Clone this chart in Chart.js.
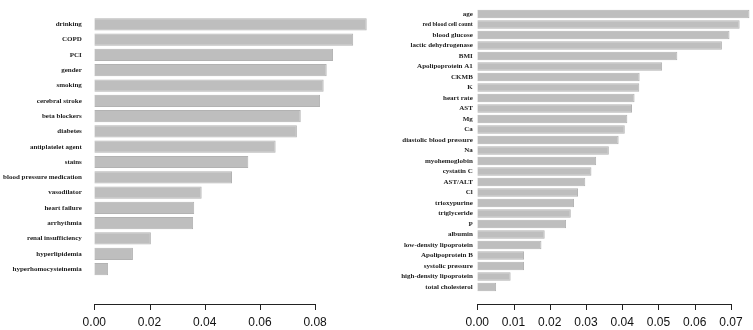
<!DOCTYPE html>
<html><head><meta charset="utf-8">
<script src="https://cdn.jsdelivr.net/npm/chart.js@4.4.1/dist/chart.umd.min.js"></script>
<style>
html,body{margin:0;padding:0;background:#fff;}
#wrap{position:relative;width:753px;height:330px;overflow:hidden;}
#c1box{position:absolute;left:0;top:0;width:376px;height:330px;}
#c2box{position:absolute;left:376px;top:0;width:377px;height:330px;}
</style></head><body>
<div id="wrap"><div id="c1box"><canvas id="c1"></canvas></div><div id="c2box"><canvas id="c2"></canvas></div></div>
<script>
const leftCategories = ["drinking","COPD","PCI","gender","smoking","cerebral stroke","beta blockers","diabetes","antiplatelet agent","stains","blood pressure medication","vasodilator","heart failure","arrhythmia","renal insufficiency","hyperlipidemia","hyperhomocysteinemia"];
const leftValues = [0.0987,0.0938,0.0865,0.0842,0.0831,0.0818,0.0748,0.0734,0.0657,0.0558,0.0499,0.0389,0.0362,0.0358,0.0205,0.0140,0.0050];
const leftTicks = [0.00,0.02,0.04,0.06,0.08];

const rightCategories = ["age","red blood cell count","blood glucose","lactic dehydrogenase","BMI","Apolipoprotein A1","CKMB","K","heart rate","AST","Mg","Ca","diastolic blood pressure","Na","myohemoglobin","cystatin C","AST/ALT","Cl","trioxypurine","triglyceride","P","albumin","low-density lipoprotein","Apolipoprotein B","systolic pressure","high-density lipoprotein","total cholesterol"];
const rightValues = [0.0751,0.0724,0.0696,0.0675,0.0552,0.0510,0.0448,0.0447,0.0434,0.0427,0.0414,0.0407,0.0390,0.0363,0.0328,0.0315,0.0298,0.0278,0.0267,0.0258,0.0245,0.0186,0.0177,0.0129,0.0129,0.0092,0.0052];
const rightTicks = [0.00,0.01,0.02,0.03,0.04,0.05,0.06,0.07];

const axisLinePlugin = {
  id: 'axisLine',
  afterDraw(chart, args, opts) {
    const xs = chart.scales.x;
    const ctx = chart.ctx;
    const y = opts.y;
    const t = xs.ticks;
    const x0 = Math.round(xs.getPixelForValue(t[0].value));
    const x1 = Math.round(xs.getPixelForValue(t[t.length - 1].value));
    ctx.save();
    ctx.strokeStyle = '#222';
    ctx.lineWidth = 1;
    ctx.beginPath();
    ctx.moveTo(x0, y + 0.5);
    ctx.lineTo(x1 + 1, y + 0.5);
    t.forEach(tk => {
      const px = Math.round(xs.getPixelForValue(tk.value)) + 0.5;
      ctx.moveTo(px, y);
      ctx.lineTo(px, y + opts.len);
    });
    ctx.stroke();
    ctx.restore();
  }
};

function makeChart(id, cats, vals, tickVals, g) {
  return new Chart(document.getElementById(id), {
    type: 'bar',
    data: {
      labels: cats,
      datasets: [{
        data: vals,
        backgroundColor: '#bebebe',
        borderColor: '#b2b2b2',
        borderWidth: 1,
        barPercentage: 0.8,
        categoryPercentage: 1.0
      }]
    },
    options: {
      indexAxis: 'y',
      responsive: true,
      maintainAspectRatio: false,
      animation: false,
      layout: { padding: { top: g.top, right: g.right, left: 0, bottom: 0 } },
      plugins: {
        legend: { display: false },
        tooltip: { enabled: false },
        axisLine: { y: g.axisY, len: 6 }
      },
      scales: {
        x: {
          type: 'linear',
          min: 0,
          max: g.xmax,
          grid: { display: false, drawTicks: true, tickLength: g.xpad },
          border: { display: false },
          afterBuildTicks: s => { s.ticks = tickVals.map(v => ({ value: v })); },
          afterFit: s => { s.height = g.xh; },
          ticks: {
            padding: 0,
            color: '#111',
            font: { family: 'Liberation Sans', size: 12 },
            callback: v => Number(v).toFixed(2)
          }
        },
        y: {
          type: 'category',
          offset: true,
          grid: { display: false, drawTicks: false },
          border: { display: false },
          afterFit: s => { s.width = g.left; },
          ticks: {
            padding: g.ypad,
            color: '#222',
            autoSkip: false,
            font: c => ({ family: 'Liberation Serif', size: (g.sizes && g.sizes[c.index]) || g.fs, weight: 'bold' })
          }
        }
      }
    },
    plugins: [axisLinePlugin]
  });
}

makeChart('c1', leftCategories, leftValues, leftTicks,
  { top: 0.9, right: 5.7, left: 94.3, xmax: 0.1, xh: 330 - 276.7, xpad: 39, ypad: 12.5, fs: 7, axisY: 304 });
makeChart('c2', rightCategories, rightValues, rightTicks,
  { top: 1.6, right: 0.3, left: 101.3, xmax: 0.076, xh: 330 - 292.2, xpad: 23.5, ypad: 4.5, fs: 7, sizes: { 1: 6 }, axisY: 304 });
</script>
</body></html>
